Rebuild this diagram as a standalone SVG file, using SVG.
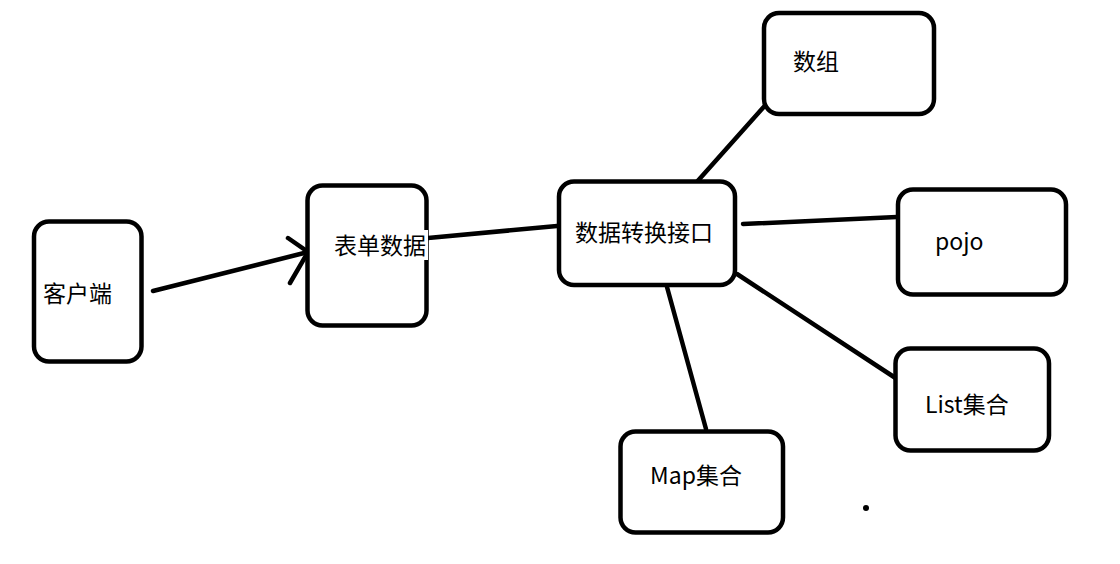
<svg xmlns="http://www.w3.org/2000/svg" width="1120" height="564" viewBox="0 0 1120 564">
<style>
.box{fill:#fff;stroke:#000;stroke-width:4.5}
.lbl{font-family:"Noto Sans CJK SC","Noto Sans",sans-serif;font-size:23px;fill:#000}
.ln{stroke:#000;stroke-width:4.5;stroke-linecap:round;fill:none}
</style>
<rect width="1120" height="564" fill="#fff"/>
<g id="connectors">
<line class="ln" x1="153" y1="291" x2="308" y2="252"/>
<polyline class="ln" points="288,238 308,252 290,283"/>
<line class="ln" x1="428" y1="238" x2="557" y2="226"/>
<line class="ln" x1="695" y1="184" x2="770" y2="100"/>
<line class="ln" x1="743" y1="224" x2="897" y2="217"/>
<line class="ln" x1="737" y1="274" x2="897" y2="379"/>
<line class="ln" x1="667" y1="287" x2="706" y2="429"/>
</g>
<g id="client">
<rect class="box" x="34" y="221.5" width="107.5" height="140" rx="15"/>
<text class="lbl" x="43" y="302">客户端</text>
</g>
<g id="form">
<rect class="box" x="307.5" y="185.5" width="119" height="140" rx="15"/>
<rect x="333" y="230" width="95" height="30" fill="#fff"/>
<text class="lbl" x="334" y="254">表单数据</text>
</g>
<g id="converter">
<rect class="box" x="559" y="181.5" width="176" height="103.5" rx="15"/>
<text class="lbl" x="575" y="241">数据转换接口</text>
</g>
<g id="array">
<rect class="box" x="764" y="13" width="170" height="101" rx="15"/>
<text class="lbl" x="793" y="70">数组</text>
</g>
<g id="pojo">
<rect class="box" x="898" y="189.5" width="168" height="105" rx="15"/>
<text class="lbl" x="935" y="250">pojo</text>
</g>
<g id="list">
<rect class="box" x="895.5" y="348.5" width="153.5" height="102" rx="15"/>
<text class="lbl" x="925" y="413">List集合</text>
</g>
<g id="map">
<rect class="box" x="620.5" y="431.5" width="162.5" height="101" rx="15"/>
<text class="lbl" x="650" y="484">Map集合</text>
</g>
<circle cx="866" cy="508" r="3" fill="#000"/>
</svg>
